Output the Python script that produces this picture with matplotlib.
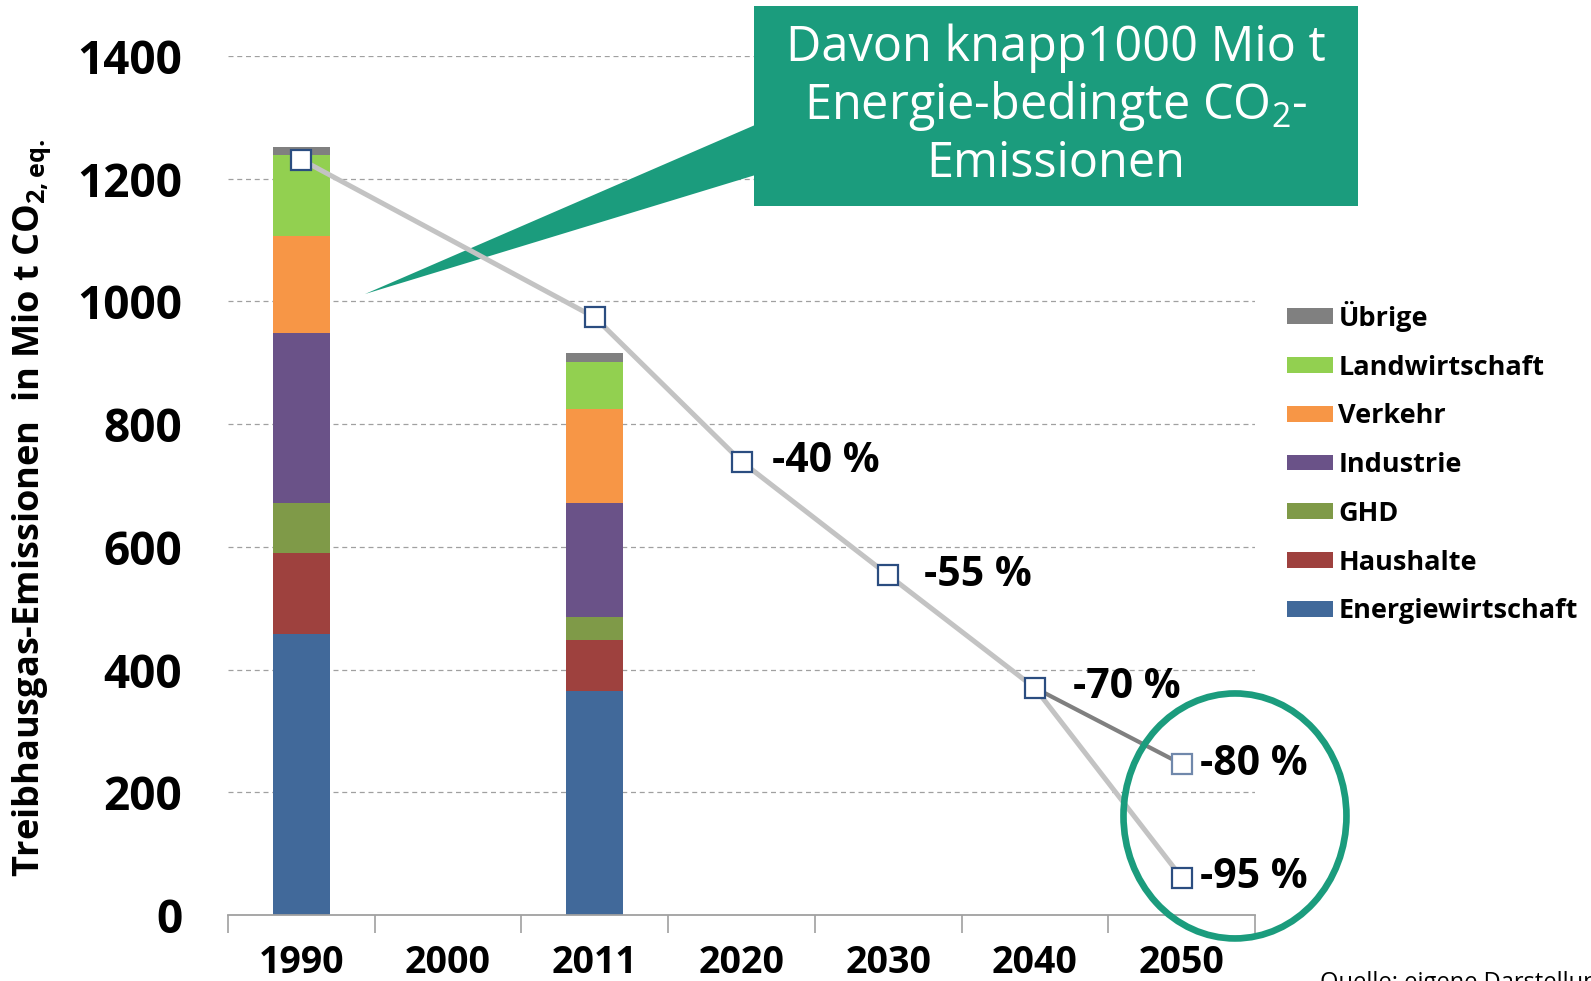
import matplotlib
matplotlib.use("Agg")
import matplotlib.pyplot as plt
from matplotlib.patches import Polygon, Rectangle, Ellipse

plt.rcParams['font.family'] = ['Open Sans', 'DejaVu Sans']
plt.rcParams['mathtext.fontset'] = 'custom'
plt.rcParams['mathtext.rm'] = 'Open Sans'
plt.rcParams['mathtext.bf'] = 'Open Sans:bold'
plt.rcParams['mathtext.it'] = 'Open Sans:italic'

# ---------------- data ----------------
years = ['1990', '2000', '2011', '2020', '2030', '2040', '2050']
bar_years = ['1990', '2011']
sectors = ['Energiewirtschaft', 'Haushalte', 'GHD', 'Industrie',
           'Verkehr', 'Landwirtschaft', 'Übrige']
energiewirtschaft = [458, 365]
haushalte = [132, 83]
ghd = [81, 38]
industrie = [278, 185]
verkehr = [158, 154]
landwirtschaft = [131, 76]
uebrige = [13, 15]
sector_colors = ['#41699a', '#9e413e', '#7f9a48', '#6a5288',
                 '#f79646', '#92d050', '#808080']

path_years = ['1990', '2011', '2020', '2030', '2040', '2050']
path_values = [1231, 974, 739, 554, 370, 61]
branch_years = ['2040', '2050']
branch_values = [370, 246]

label_years = ['2020', '2030', '2040', '2050', '2050']
label_values = [739, 554, 370, 246, 61]
label_texts = ['-40 %', '-55 %', '-70 %', '-80 %', '-95 %']
label_offsets = [30, 36, 38, 18, 18]

yticks = [0, 200, 400, 600, 800, 1000, 1200, 1400]

green = '#1b9c7d'

# ---------------- figure ----------------
fig = plt.figure(figsize=(15.91, 9.81), dpi=100)
ax = fig.add_axes([228 / 1591, 66 / 981, 1027 / 1591, 859 / 981])

xpos = {y: i for i, y in enumerate(years)}
bx = [xpos[y] for y in bar_years]
series = [energiewirtschaft, haushalte, ghd, industrie, verkehr,
          landwirtschaft, uebrige]
bottom = [0] * len(bx)
handles = []
for name, vals, col in zip(sectors, series, sector_colors):
    h = ax.bar(bx, vals, width=0.39, bottom=bottom, color=col,
               edgecolor='none', label=name, zorder=2)
    handles.append(h)
    bottom = [b + v for b, v in zip(bottom, vals)]

# pathway lines
ax.plot([xpos[y] for y in path_years], path_values, color='#c3c3c3',
        lw=3.6, zorder=4, solid_capstyle='butt')
ax.plot([xpos[y] for y in branch_years], branch_values, color='#808080',
        lw=3.0, zorder=4, solid_capstyle='butt')
ax.plot([xpos[y] for y in path_years], path_values, ls='none', marker='s',
        ms=14, mfc='white', mec='#2b4d80', mew=1.6, zorder=5)
ax.plot([xpos[branch_years[1]]], [branch_values[1]], ls='none', marker='s',
        ms=14, mfc='white', mec='#7088ab', mew=1.6, zorder=5)

for y, v, t, off in zip(label_years, label_values, label_texts, label_offsets):
    ax.annotate(t, (xpos[y], v), xytext=(off, 0), textcoords='offset pixels',
                ha='left', va='center', fontsize=29.5, fontweight='bold',
                color='black', zorder=6, annotation_clip=False)

# axes styling
ax.set_xlim(-0.5, len(years) - 0.5)
ax.set_ylim(0, 1400)
ax.set_yticks(yticks)
ax.set_yticklabels([str(t) for t in yticks], fontsize=33, fontweight='bold')
ax.tick_params(axis='y', length=0, pad=33)
ax.set_xticks(range(len(years)))
ax.set_xticklabels(years, fontsize=27, fontweight='bold')
ax.set_xticks([i - 0.5 for i in range(len(years) + 1)], minor=True)
ax.tick_params(axis='x', which='major', length=0, pad=21)
ax.tick_params(axis='x', which='minor', length=13, width=1.2,
               color='#a0a0a0', direction='out')
for s in ['left', 'right', 'top']:
    ax.spines[s].set_visible(False)
ax.spines['bottom'].set_color('#a0a0a0')
ax.spines['bottom'].set_linewidth(1.3)
for t in yticks[1:]:
    ax.axhline(t, color='#a0a0a0', lw=0.9, ls=(0, (4, 3)), zorder=1)

ax.set_ylabel(r'Treibhausgas-Emissionen  in Mio t CO$_{\mathbf{2,eq.}}$',
              fontsize=26, fontweight='bold')
ax.yaxis.label.set(ha='center', va='center', rotation_mode='default')
ax.yaxis.set_label_coords(-0.191, 0.474)

# legend
leg = ax.legend(handles[::-1], sectors[::-1], loc='upper left',
                bbox_to_anchor=(1.031, 0.715), frameon=False,
                prop={'weight': 'bold', 'size': 19.5}, handlelength=1.70,
                handleheight=0.52, labelspacing=0.84, handletextpad=0.2,
                borderpad=0, borderaxespad=0)

# callout box
wedge = Polygon([(0.1334, 0.7229), (0.52, 0.9232), (0.52, 0.8638)],
                closed=True, transform=ax.transAxes, facecolor=green,
                edgecolor='none', clip_on=False, zorder=3)
ax.add_patch(wedge)
box = Rectangle((0.512, 0.825), 1.100 - 0.512, 1.058 - 0.825,
                transform=ax.transAxes, facecolor=green, edgecolor='none',
                clip_on=False, zorder=7)
ax.add_patch(box)
ax.text(0.806, 0.9415,
        'Davon knapp1000 Mio t\nEnergie-bedingte CO$_2$-\nEmissionen',
        transform=ax.transAxes, ha='center', va='center', color='white',
        fontsize=35, linespacing=1.17, zorder=8)

# circle
circ = Ellipse((0.9805, 0.1153), 0.2171, 0.2852, transform=ax.transAxes,
               facecolor='none', edgecolor=green, lw=4.8, clip_on=False,
               zorder=6)
ax.add_patch(circ)

fig.text(1320 / 1591, -0.008, 'Quelle: eigene Darstellung', fontsize=17,
         ha='left', va='baseline', color='black')

fig.savefig('out.png', dpi=100)
